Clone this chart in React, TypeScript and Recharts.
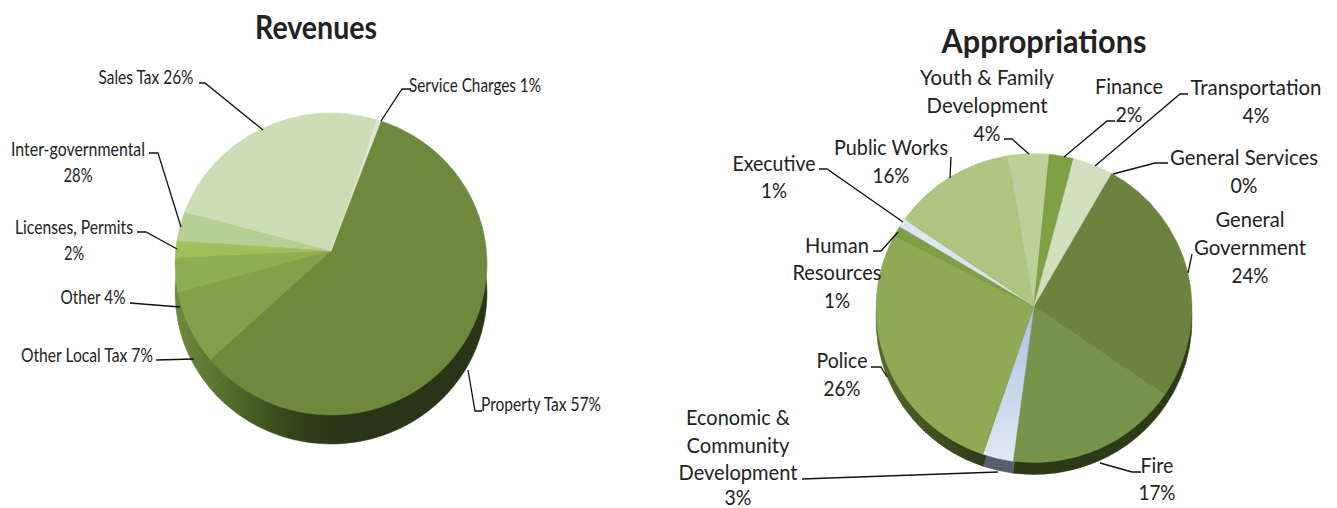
import { Pie, PieChart } from "recharts";

const revNames = ["Property Tax", "Other Local Tax", "Other", "Licenses, Permits", "Inter-governmental", "Sales Tax", "Service Charges"];
// slice sizes as drawn; the printed percentages are kept apart since the picture prints 28% on a thin slice
const revValues = [58.9, 7.9, 3.7, 1.8, 3.1, 24.2, 0.4];
const revColors = ["#6e893b", "#84a04b", "#8fae52", "#a0bf5a", "#b6cf92", "#ccdcb4", "#dfe8d0"];

const appNames = ["General Services", "General Government", "Fire", "Economic & Community Development", "Police", "Human Resources", "Executive", "Public Works", "Youth & Family Development", "Finance", "Transportation"];
const appValues = [0, 26.3, 17.7, 3.1, 27.5, 1.1, 0.9, 12.6, 4.2, 2.5, 4.1];
const appColors = ["#a9c47a", "#6c823f", "#78944a", "url(#econTop)", "#8fa955", "#7e9f45", "#dce6f2", "#aec57f", "#bcd09a", "#7f9f45", "#d2e0c0"];
const appSideColors = ["#2d3a17", "#2d3a17", "#2d3a17", "#565f6d", "url(#policeSide)", "#4e6328", "#4e6328", "#4e6328", "#4e6328", "#2d3a17", "#2d3a17"];

// [text, centre x, centre y, width]
type Line = [string, number, number, number];
type Note = { lines: Line[]; leader: number[][] };

const revNotes: Note[] = [
  { lines: [["Property Tax 57%", 541, 403, 120]], leader: [[482, 411], [475, 411], [468, 370]] },
  { lines: [["Other Local Tax 7%", 87, 354, 132]], leader: [[156, 360], [194, 359]] },
  { lines: [["Other 4%", 93, 296, 65]], leader: [[130, 303], [180, 307]] },
  { lines: [["Licenses, Permits", 74, 226, 118], ["2%", 74, 252, 20]], leader: [[137, 232], [146, 232], [177, 249]] },
  { lines: [["Inter-governmental", 78, 148, 134], ["28%", 78, 174, 29]], leader: [[149, 153], [158, 153], [181, 227]] },
  { lines: [["Sales Tax 26%", 146, 76, 95]], leader: [[199, 83], [205, 83], [263, 130]] },
  { lines: [["Service Charges 1%", 475, 84, 132]], leader: [[411, 89], [402, 89], [381, 121]] },
];

const appNotes: Note[] = [
  { lines: [["General Services", 1244, 156, 148], ["0%", 1244, 184, 27]], leader: [[1168, 163], [1155, 163], [1113, 174]] },
  { lines: [["General", 1250, 218, 69], ["Government", 1250, 246, 112], ["24%", 1250, 274, 37]], leader: [[1192, 254], [1188, 273]] },
  { lines: [["Fire", 1157, 464, 33], ["17%", 1157, 491, 37]], leader: [[1141, 472], [1132, 472], [1100, 463]] },
  { lines: [["Economic &", 738, 416, 104], ["Community", 738, 444, 103], ["Development", 738, 471, 119], ["3%", 738, 496, 27]], leader: [[802, 479], [998, 472]] },
  { lines: [["Police", 842, 359, 51], ["26%", 842, 387, 37]], leader: [[871, 367], [881, 367], [887, 377]] },
  { lines: [["Human", 837, 244, 64], ["Resources", 837, 271, 89], ["1%", 837, 299, 26]], leader: [[873, 251], [881, 251], [898, 232]] },
  { lines: [["Executive", 774, 162, 83], ["1%", 774, 189, 26]], leader: [[819, 169], [827, 169], [903, 222]] },
  { lines: [["Public Works", 891, 146, 114], ["16%", 891, 174, 37]], leader: [[951, 157], [950, 178]] },
  { lines: [["Youth & Family", 987, 76, 134], ["Development", 987, 104, 121], ["4%", 987, 132, 27]], leader: [[1004, 139], [1012, 139], [1029, 154]] },
  { lines: [["Finance", 1129, 85, 68], ["2%", 1129, 113, 27]], leader: [[1115, 121], [1107, 121], [1064, 157]] },
  { lines: [["Transportation", 1256, 86, 131], ["4%", 1256, 114, 27]], leader: [[1188, 94], [1180, 94], [1095, 166]] },
];

const font = "Lato, 'Open Sans', sans-serif";
const RAD = Math.PI / 180;

// pie seen at a tilt: an ellipse whose centre sits a little below the slice apex
function tiltedSlice(ratio: number, drop: number) {
  return (p: any) => {
    if (Math.abs(p.endAngle - p.startAngle) < 0.01) return <g />;
    const rx = p.outerRadius;
    const ry = rx * ratio;
    const ey = p.cy + drop;
    const a = [p.cx + rx * Math.cos(p.startAngle * RAD), ey - ry * Math.sin(p.startAngle * RAD)];
    const b = [p.cx + rx * Math.cos(p.endAngle * RAD), ey - ry * Math.sin(p.endAngle * RAD)];
    const large = Math.abs(p.endAngle - p.startAngle) > 180 ? 1 : 0;
    const d = `M${p.cx},${p.cy}L${a[0]},${a[1]}A${rx},${ry} 0 ${large} 1 ${b[0]},${b[1]}Z`;
    return <path d={d} fill={p.fill} stroke={p.fill} strokeWidth={0.5} />;
  };
}

function noteLabel(notes: Note[], size: number) {
  return (p: any) => {
    const note = notes[p.index];
    return (
      <g key={p.index}>
        <polyline points={note.leader.map((q) => q.join(",")).join(" ")} fill="none" stroke="#111" strokeWidth={1.3} />
        {note.lines.map(([text, x, y, w]) => (
          <text key={text} x={x} y={y} textAnchor="middle" dominantBaseline="central" fontFamily={font} fontSize={size} fill="#222" textLength={w} lengthAdjust="spacingAndGlyphs">
            {text}
          </text>
        ))}
      </g>
    );
  };
}

const revRows = revNames.map((name, i) => ({ name, value: revValues[i], fill: revColors[i] }));
const revSide = revNames.map((name, i) => ({ name, value: revValues[i], fill: "url(#revSide)" }));
const appRows = appNames.map((name, i) => ({ name, value: appValues[i], fill: appColors[i] }));
const appSide = appNames.map((name, i) => ({ name, value: appValues[i], fill: appSideColors[i] }));

export default function App() {
  return (
    <div style={{ position: "absolute", left: 0, top: 0, width: 1337, height: 508, background: "#fff" }}>
      <PieChart width={1337} height={508} margin={{ top: 0, right: 0, bottom: 0, left: 0 }}>
        <defs>
          <linearGradient id="revSide" gradientUnits="userSpaceOnUse" x1="176" y1="0" x2="340" y2="0">
            <stop offset="0%" stopColor="#70893f" />
            <stop offset="30%" stopColor="#55702c" />
            <stop offset="70%" stopColor="#33441b" />
            <stop offset="100%" stopColor="#2a3517" />
          </linearGradient>
          <linearGradient id="policeSide" gradientUnits="userSpaceOnUse" x1="880" y1="0" x2="985" y2="0">
            <stop offset="0%" stopColor="#52682b" />
            <stop offset="100%" stopColor="#2d3a17" />
          </linearGradient>
          <linearGradient id="econTop" x1="0" y1="0" x2="0" y2="1">
            <stop offset="0%" stopColor="#a9bfe0" />
            <stop offset="100%" stopColor="#e2e9f4" />
          </linearGradient>
        </defs>
        <Pie data={revSide} dataKey="value" cx={331} cy={280} outerRadius={156} startAngle={71.4} endAngle={-288.6} stroke="none" shape={tiltedSlice(0.968, 13)} isAnimationActive={false} />
        <Pie data={revRows} dataKey="value" cx={331} cy={251} outerRadius={156} startAngle={71.4} endAngle={-288.6} stroke="none" shape={tiltedSlice(0.968, 13)} label={noteLabel(revNotes, 19)} labelLine={false} isAnimationActive={false} />
        <Pie data={appSide} dataKey="value" cx={1034} cy={318} outerRadius={158} startAngle={60.7} endAngle={-299.3} stroke="none" shape={tiltedSlice(0.978, 2)} isAnimationActive={false} />
        <Pie data={appRows} dataKey="value" cx={1034} cy={306} outerRadius={158} startAngle={60.7} endAngle={-299.3} stroke="none" shape={tiltedSlice(0.978, 2)} label={noteLabel(appNotes, 21)} labelLine={false} isAnimationActive={false} />
        <text x={316} y={26} textAnchor="middle" dominantBaseline="central" fontFamily={font} fontSize={33} fontWeight={700} fill="#222" textLength={122} lengthAdjust="spacingAndGlyphs">Revenues</text>
        <text x={1044} y={40} textAnchor="middle" dominantBaseline="central" fontFamily={font} fontSize={33} fontWeight={700} fill="#222" textLength={205} lengthAdjust="spacingAndGlyphs">Appropriations</text>
      </PieChart>
    </div>
  );
}
